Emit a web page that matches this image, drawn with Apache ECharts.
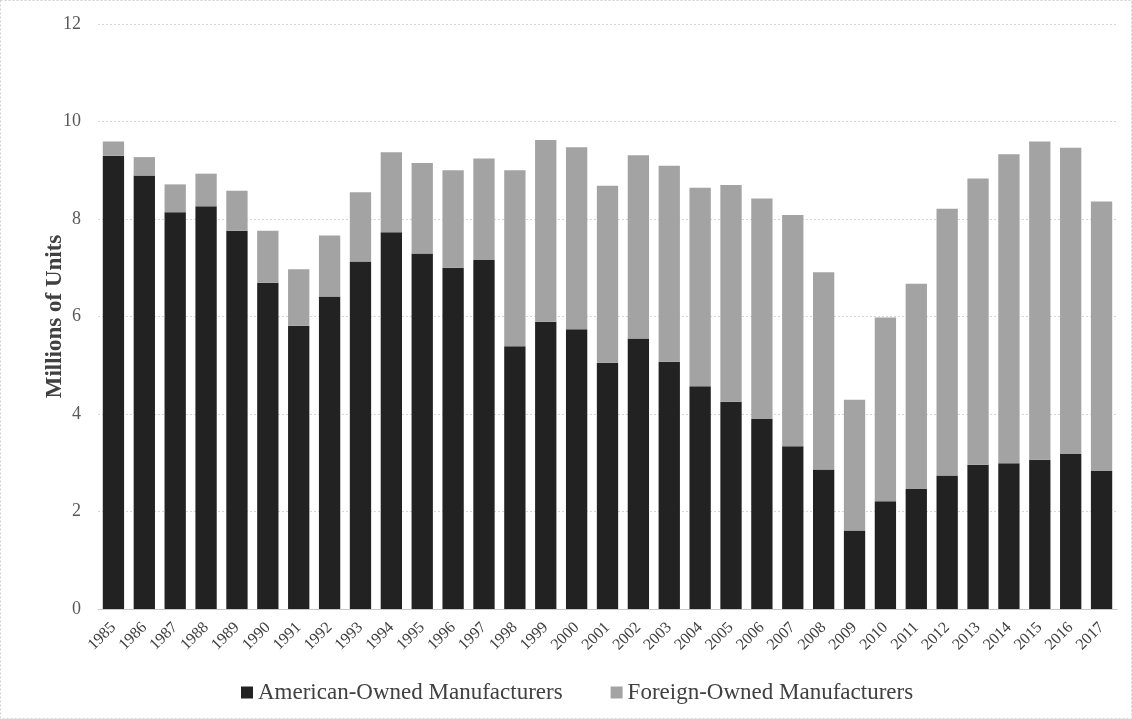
<!DOCTYPE html>
<html>
<head>
<meta charset="utf-8">
<script src="https://cdn.jsdelivr.net/npm/echarts@6/dist/echarts.min.js"></script>
<style>
html,body{margin:0;padding:0;background:#fff;}
#chart{width:1132px;height:719px;}
</style>
</head>
<body>
<div id="chart"></div>
<script>
const years = ['1985','1986','1987','1988','1989','1990','1991','1992','1993','1994','1995','1996','1997','1998','1999','2000','2001','2002','2003','2004','2005','2006','2007','2008','2009','2010','2011','2012','2013','2014','2015','2016','2017'];
const american = [9.30,8.89,8.14,8.26,7.76,6.69,5.81,6.41,7.13,7.73,7.29,7.00,7.16,5.39,5.89,5.74,5.05,5.55,5.07,4.57,4.25,3.90,3.34,2.86,1.61,2.21,2.46,2.74,2.96,2.99,3.06,3.18,2.83];
const foreign = [0.29,0.38,0.57,0.67,0.82,1.07,1.16,1.25,1.42,1.64,1.86,2.00,2.08,3.61,3.73,3.73,3.63,3.76,4.02,4.07,4.45,4.52,4.74,4.05,2.68,3.77,4.21,5.47,5.87,6.34,6.53,6.28,5.53];
const yTicks = {min:0, max:12, interval:2};

const chart = echarts.init(document.getElementById('chart'), null, {renderer:'canvas'});
const serif = '"Liberation Serif","Times New Roman",serif';
chart.setOption({
  backgroundColor:'#fff',
  animation:false,
  graphic:[{type:'rect',shape:{x:0.5,y:0.5,width:1131,height:718},style:{fill:'none',stroke:'#d0d0d0',lineWidth:1,lineDash:[2,2]},silent:true}],
  grid:{left:98,right:15,top:24,bottom:110},
  legend:{
    top:676,left:236,itemWidth:12,itemHeight:12,itemGap:48,icon:'rect',
    textStyle:{fontFamily:serif,fontSize:23,color:'#404040'},
    data:['American-Owned Manufacturers','Foreign-Owned Manufacturers']
  },
  xAxis:{
    type:'category',data:years,
    axisLine:{lineStyle:{color:'#c8c8c8'}},
    axisTick:{show:false},
    axisLabel:{rotate:45,fontFamily:serif,fontSize:16,color:'#404040',margin:16,interval:0}
  },
  yAxis:{
    type:'value',min:yTicks.min,max:yTicks.max,interval:yTicks.interval,
    name:'Millions of Units',nameLocation:'middle',nameGap:31,nameMoveOverlap:false,
    nameTextStyle:{fontFamily:serif,fontSize:23,fontWeight:'bold',color:'#404040'},
    axisLabel:{fontFamily:serif,fontSize:18,color:'#595959',margin:17},
    axisLine:{show:false},axisTick:{show:false},
    splitLine:{lineStyle:{color:'#d6d6d6',type:[2,2]}}
  },
  series:[
    {name:'American-Owned Manufacturers',type:'bar',stack:'t',data:american,barCategoryGap:'31%',itemStyle:{color:'#222222'}},
    {name:'Foreign-Owned Manufacturers',type:'bar',stack:'t',data:foreign,itemStyle:{color:'#a3a3a3'}}
  ]
});
</script>
</body>
</html>
